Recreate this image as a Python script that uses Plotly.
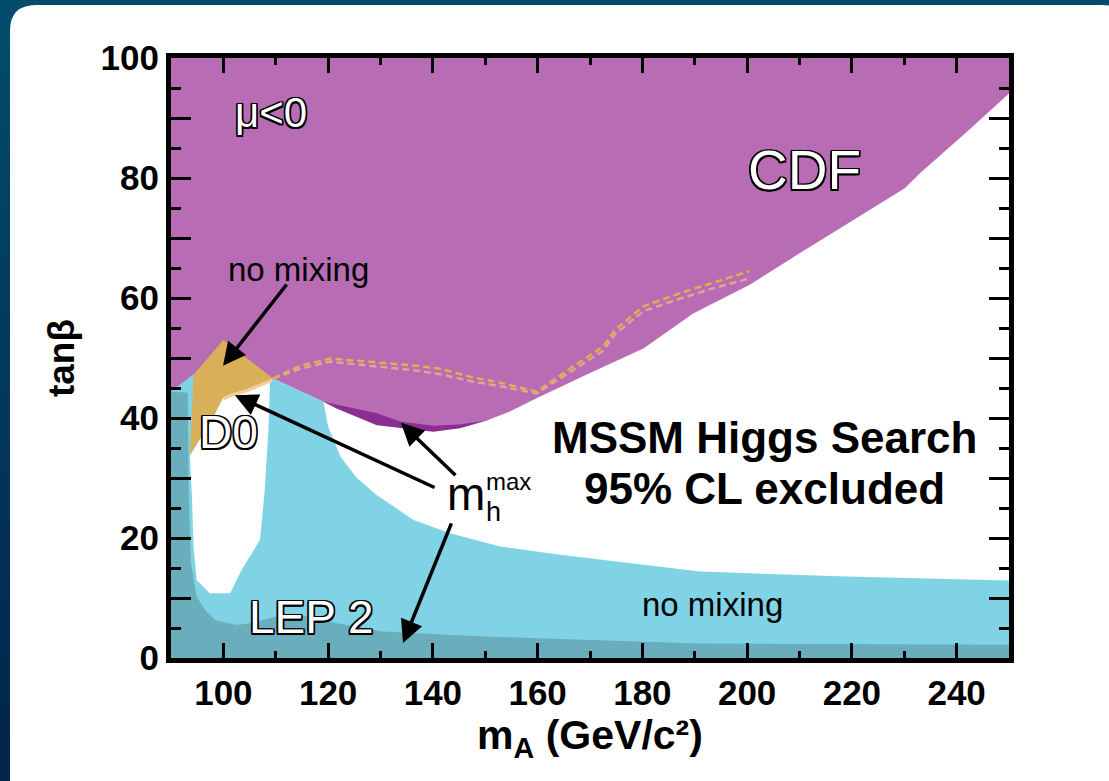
import plotly.graph_objects as go

# ---------------- data ----------------
# CDF exclusion (light purple): lower boundary
cdf_x = [90, 109.5, 119.1, 124, 129.3, 133.7, 140.1, 145, 150.3, 154.7, 159.8, 170, 180.2,
         189.7, 200.5, 210.1, 220, 226.6, 230.1, 233, 241.6, 250]
cdf_y = [40, 46.6, 42.7, 41.8, 40.8, 39.4, 38.7, 38.9, 39.6, 41.1, 43.3, 47.5, 51.6,
         57.4, 62.2, 67.5, 72.8, 76.3, 78.3, 80.8, 87.4, 94.1]
# CDF m_h^max extension (dark purple): lower boundary
cdfmh_x = [119.1, 121.6, 129.3, 134.4, 140.1, 145.2, 150.3]
cdfmh_y = [42.7, 41.6, 38.8, 38.3, 37.7, 38.3, 39.6]
# LEP 2 no-mixing exclusion (light blue): upper boundary
lepnm_x = [90, 94.3, 101, 109.5, 119.1, 120, 122.4, 125.5, 129.2, 136.3, 143.3, 152.8,
           164.3, 191, 219, 250]
lepnm_y = [44.4, 47.3, 50, 46.6, 42.7, 38.6, 33.5, 30, 27.2, 23, 20.8, 18.6,
           17.2, 14.4, 13.6, 12.9]
# allowed pocket inside the LEP no-mixing region
hole_x = [93.6, 94, 94.3, 94.9, 97.4, 101.3, 103.5, 107, 107.9, 108.6, 108.9, 109.5,
          104.1, 101.6, 100, 97.8]
hole_y = [33.8, 26.9, 18.6, 13, 10.8, 10.8, 14.7, 19.7, 28, 38, 46.3, 46.6,
          44.7, 44.1, 43.5, 39.7]
# D0 exclusion (gold)
d0_x = [93.6, 94.3, 100, 109.5, 104.1, 101.6, 100, 97.8]
d0_y = [33.8, 47.2, 53, 46.6, 44.7, 44.1, 43.5, 39.7]
d0edge_x = [100, 101.6, 104.1, 109.3]
d0edge_y = [43.2, 43.8, 44.4, 46.3]
# LEP 2 m_h^max exclusion (dark teal): upper boundary
lepmh_x = [90, 93.2, 93.4, 93.8, 94.9, 96.5, 98.5, 102.5, 105.1, 111.4, 116.5, 121.6,
           130.5, 149.6, 191, 250]
lepmh_y = [44.4, 44.2, 27, 16, 10.2, 8, 6.3, 5.5, 5.8, 7.2, 6.9, 5.8,
           4.4, 3.6, 2.4, 2.2]
# dashed expected-limit lines
dash1_x = [109.5, 114.6, 120.4, 125.5, 131.8, 136.9, 141.4, 147.5, 152.8, 159.8, 166.8,
           172.5, 174.8, 180.2, 187.2, 193.5, 200.5]
dash1_y = [46.6, 48.7, 49.9, 49.5, 49.1, 48.7, 48.2, 46.8, 45.9, 44.4, 48.6,
           51.9, 54.7, 58.6, 60.8, 62.5, 64.5]
dash2_x = dash1_x
dash2_y = [46.6, 48.2, 49.4, 48.9, 48.3, 47.9, 47.3, 46.1, 45.3, 44.1, 48.0,
           51.2, 54.0, 57.8, 59.9, 61.6, 63.3]

x_ticks = [100, 120, 140, 160, 180, 200, 220, 240]
y_ticks = [0, 10, 20, 30, 40, 50, 60, 70, 80, 90, 100]
y_ticktext = ["0", "", "20", "", "40", "", "60", "", "80", "", "100"]

# ---------------- styling ----------------
FONT = "Liberation Sans, Arial, Helvetica, sans-serif"
PURPLE = "#B86CB4"
DPURPLE = "#8C2D92"
LBLUE = "#80D3E4"
TEAL = "#6AAEBE"
GOLD = "#D8B05A"
PEACH = "#F8CC96"

W, H = 1109, 781
L, R, T, B = 171, 1009, 58, 658  # plot area in pixels


def px(xp):
    return (xp - L) / (R - L)


def py(yp):
    return (B - yp) / (B - T)


fig = go.Figure()


def poly(xs, ys, color):
    fig.add_trace(go.Scatter(x=xs, y=ys, fill="toself", fillcolor=color, mode="lines",
                             line=dict(width=0, color=color), hoverinfo="skip",
                             showlegend=False))


poly(cdfmh_x + [cdfmh_x[-1], cdfmh_x[0]], cdfmh_y + [46, 46], DPURPLE)
poly(cdf_x + [250, 90], cdf_y + [100, 100], PURPLE)
poly([90] + lepnm_x + [250], [0] + lepnm_y + [0], LBLUE)
poly(hole_x, hole_y, "white")
poly(d0_x, d0_y, GOLD)
fig.add_trace(go.Scatter(x=d0edge_x, y=d0edge_y, mode="lines",
                         line=dict(width=3, color=PEACH), hoverinfo="skip", showlegend=False))
poly([90] + lepmh_x + [250], [0] + lepmh_y + [0], TEAL)
fig.add_trace(go.Scatter(x=dash2_x, y=dash2_y, mode="lines",
                         line=dict(width=2.5, color="#E3A396", dash="7px,4px"),
                         hoverinfo="skip", showlegend=False))
fig.add_trace(go.Scatter(x=dash1_x, y=dash1_y, mode="lines",
                         line=dict(width=2.5, color="#DDB050", dash="7px,4px"),
                         hoverinfo="skip", showlegend=False))

# ---------------- background (dark frame + white rounded panel) ----------------
shapes = []
nb = 30
top_c = (3, 76, 108)
bot_c = (1, 36, 76)
for i in range(nb):
    t = i / (nb - 1)
    c = tuple(int(round(top_c[k] + (bot_c[k] - top_c[k]) * t)) for k in range(3))
    y0 = i * H / nb
    y1 = (i + 1) * H / nb + 1
    shapes.append(dict(type="rect", xref="paper", yref="paper", layer="below",
                       x0=px(0), x1=px(W), y0=py(y0), y1=py(y1),
                       fillcolor="rgb(%d,%d,%d)" % c, line=dict(width=0)))
r = 26
x0p, y0p, x1p, y1p = 10, 5, 1128, 808
path = (f"M {px(x0p)},{py(y0p + r)} Q {px(x0p)},{py(y0p)} {px(x0p + r)},{py(y0p)} "
        f"L {px(x1p - r)},{py(y0p)} Q {px(x1p)},{py(y0p)} {px(x1p)},{py(y0p + r)} "
        f"L {px(x1p)},{py(y1p - r)} Q {px(x1p)},{py(y1p)} {px(x1p - r)},{py(y1p)} "
        f"L {px(x0p + r)},{py(y1p)} Q {px(x0p)},{py(y1p)} {px(x0p)},{py(y1p - r)} Z")
shapes.append(dict(type="path", xref="paper", yref="paper", layer="below", path=path,
                   fillcolor="white", line=dict(width=0)))

# ---------------- annotations ----------------
OUT = ("-1.5px -1.5px 0 #000, 1.5px -1.5px 0 #000, -1.5px 1.5px 0 #000, 1.5px 1.5px 0 #000, "
       "0 1.5px 0 #000, 0 -1.5px 0 #000, 1.5px 0 0 #000, -1.5px 0 0 #000")


def txt(x, y, s, size, color="black", weight="normal", shadow=None, xanchor="center"):
    f = dict(family=FONT, size=size, color=color, weight=weight)
    if shadow:
        f["shadow"] = shadow
    return dict(x=x, y=y, xref="x", yref="y", text=s, showarrow=False, font=f,
                xanchor=xanchor, yanchor="middle", borderpad=0)


def arrow(xh, yh, xt, yt):
    return dict(x=xh, y=yh, ax=xt, ay=yt, xref="x", yref="y", axref="x", ayref="y",
                text="", showarrow=True, arrowhead=2, arrowsize=1.3, arrowwidth=3.5,
                arrowcolor="black", standoff=0, startstandoff=0)


annotations = [
    txt(109.1, 91, "μ<0", 42, "white", shadow=OUT),
    txt(211.0, 81.3, "CDF", 55, "white", shadow=OUT),
    txt(114.3, 64.8, "no mixing", 33),
    txt(100.9, 37.7, "D0", 46, "white", shadow=OUT),
    txt(116.7, 6.9, "LEP 2", 46, "white", shadow=OUT),
    txt(193.3, 9.0, "no mixing", 33),
    txt(203.4, 36.8, "MSSM Higgs Search", 44, weight="bold"),
    txt(203.4, 28.2, "95% CL excluded", 44, weight="bold"),
    txt(146.4, 27.4, "m", 46),
    txt(150.0, 24.4, "h", 27, xanchor="left"),
    txt(150.0, 29.4, "max", 24, xanchor="left"),
    arrow(99.93, 48.7, 112.3, 62.5),
    arrow(102.2, 43.8, 140.6, 28.3),
    arrow(133.9, 39.2, 144.6, 30.2),
    arrow(134.3, 2.5, 143.65, 22.7),
]

fig.update_layout(
    width=W, height=H,
    margin=dict(l=L, r=W - R, t=T, b=H - B, pad=0),
    paper_bgcolor="rgb(2,60,92)",
    plot_bgcolor="white",
    shapes=shapes,
    annotations=annotations,
    showlegend=False,
    font=dict(family=FONT),
)
fig.update_xaxes(
    range=[90, 250], tickmode="array", tickvals=x_ticks, ticktext=[str(v) for v in x_ticks],
    ticks="inside", ticklen=15, tickwidth=2.5, tickcolor="black",
    minor=dict(dtick=10, tick0=0, ticks="inside", ticklen=7, tickwidth=2.5, tickcolor="black"),
    showline=True, linewidth=5, linecolor="black", mirror="allticks",
    showgrid=False, zeroline=False,
    tickfont=dict(family=FONT, size=35, color="black", weight="bold"),
    title=dict(text="m<sub>A</sub> (GeV/c²)", standoff=4,
               font=dict(family=FONT, size=41, color="black", weight="bold")),
)
fig.update_yaxes(
    range=[0, 100], tickmode="array", tickvals=y_ticks, ticktext=y_ticktext,
    ticks="inside", ticklen=20, tickwidth=2.5, tickcolor="black",
    minor=dict(dtick=5, tick0=0, ticks="inside", ticklen=10, tickwidth=2.5, tickcolor="black"),
    showline=True, linewidth=5, linecolor="black", mirror="allticks",
    showgrid=False, zeroline=False,
    tickfont=dict(family=FONT, size=35, color="black", weight="bold"),
    title=dict(text="tanβ", standoff=16,
               font=dict(family=FONT, size=37, color="black", weight="bold")),
)

fig.write_html("out.html", config={"displayModeBar": False},
               post_script="document.body.style.margin='0';document.body.style.overflow='hidden';")
